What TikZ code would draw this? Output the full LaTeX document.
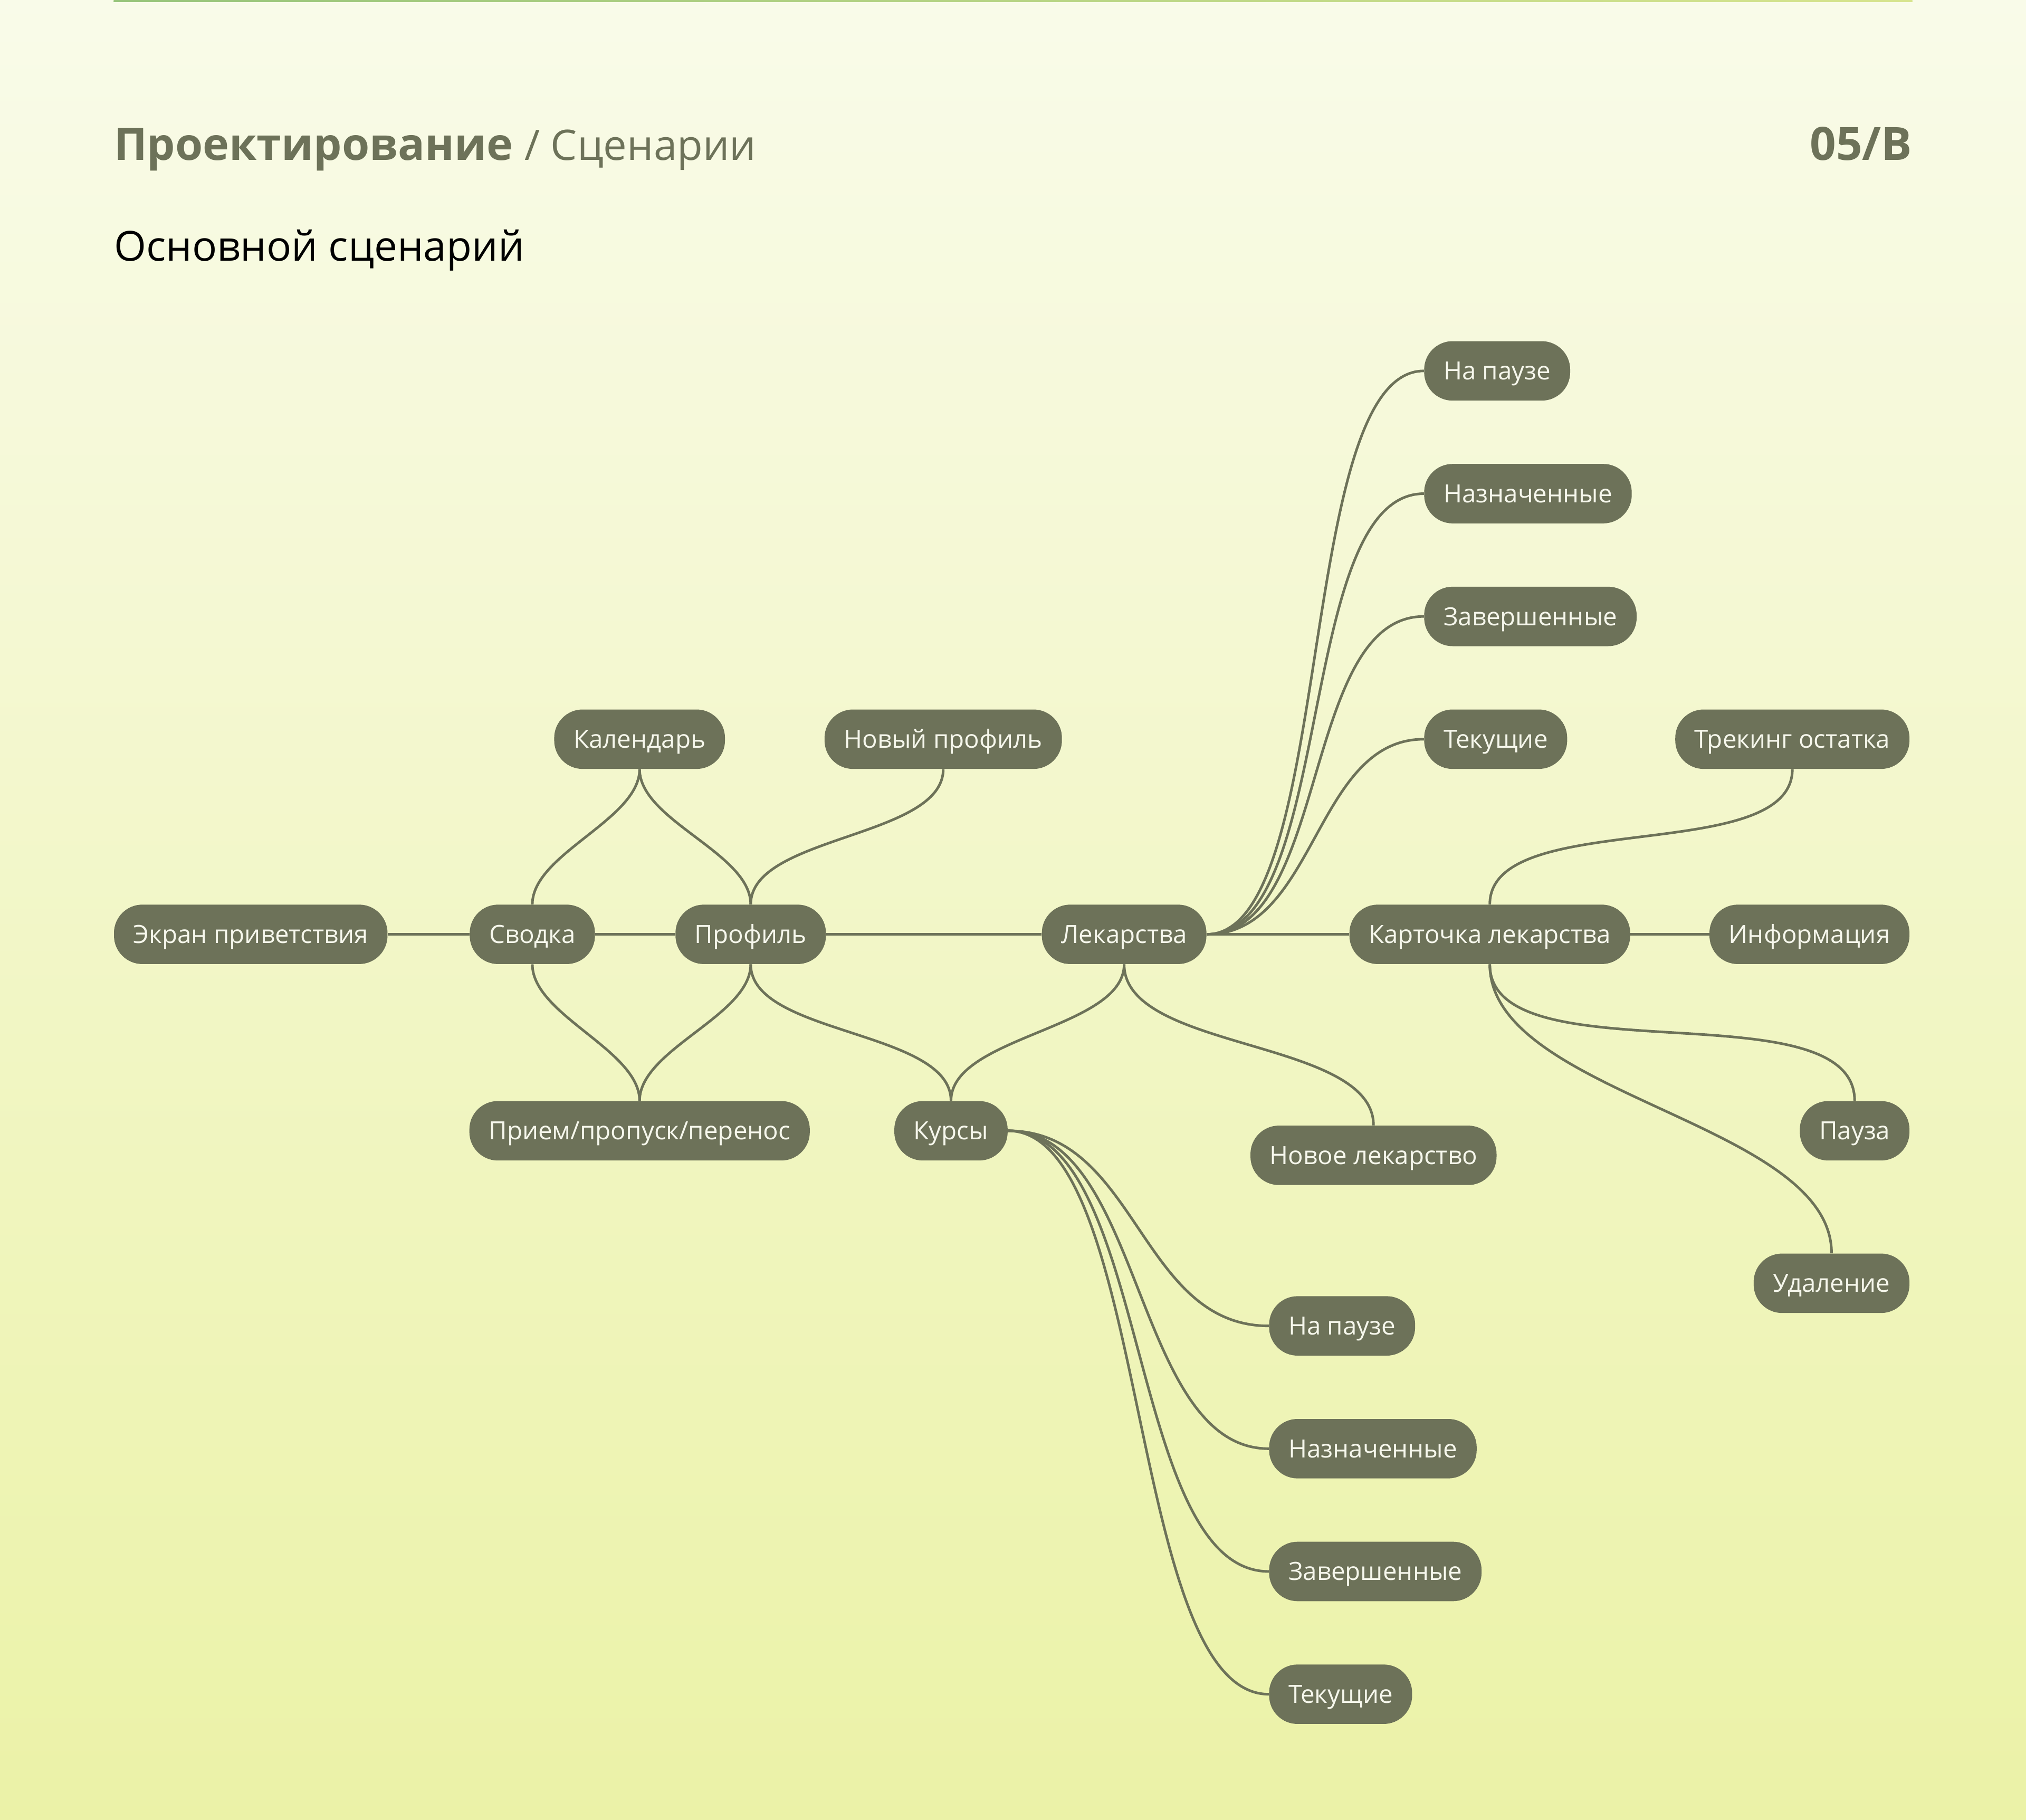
\documentclass[tikz,border=0pt]{standalone}
\usepackage{fontspec}
\setmainfont{Open Sans}
\usepackage{tikz}
\usetikzlibrary{positioning}
\definecolor{mapolive}{HTML}{6D7259}
\definecolor{nodetext}{HTML}{F6F7EC}
\definecolor{bgtop}{HTML}{F9FBE9}
\definecolor{bgbottom}{HTML}{EBF2A7}
\definecolor{lineleft}{HTML}{97C47A}
\definecolor{lineright}{HTML}{D7E48E}

\begin{document}
\begin{tikzpicture}[
  x=1pt,y=1pt,
  etap/.style={rectangle,rounded corners=22pt,fill=mapolive,text=nodetext,
               minimum height=46pt,inner xsep=15pt,inner ysep=0pt,
               text height=13.8pt,text depth=0pt,
               font=\fontsize{19.4}{22}\selectfont},
  zag/.style={inner sep=0pt,text=mapolive},
  svyaz/.style={mapolive,line width=2pt},
  vniz/.style={svyaz,out=-90,in=90,looseness=0.75},
  vverh/.style={svyaz,out=90,in=-90,looseness=0.75}
]
%% Фон
\shade[top color=bgtop,bottom color=bgbottom] (0,0) rectangle (1568,-1408);
\shade[left color=lineleft,right color=lineright] (88,0) rectangle (1480,-1.5);
\useasboundingbox (0,0) rectangle (1568,-1408);
%% Заголовки
\node[zag,anchor=base west,font=\fontsize{34.5}{40}\selectfont] (razdel) at (88,-124)
  {\textbf{Проектирование} {\fontsize{32.5}{36}\selectfont / Сценарии}};
\node[zag,anchor=base east,font=\fontsize{35.5}{40}\selectfont\bfseries] (nomer) at (1480,-124) {05/B};
\node[zag,anchor=base west,text=black,font=\fontsize{32}{36}\selectfont] (podzag) at (88,-202) {Основной сценарий};
%% Узлы
\node[etap,anchor=west] (ekran)     at (88,-723)   {Экран приветствия};
\node[etap]             (svodka)    at (412,-723)  {Сводка};
\node[etap]             (profil)    at (581,-723)  {Профиль};
\node[etap]             (lek)       at (870,-723)  {Лекарства};
\node[etap]             (kartochka) at (1153,-723) {Карточка лекарства};
\node[etap,anchor=east] (info)      at (1478,-723) {Информация};
\node[etap]             (kalendar)  at (495,-572)  {Календарь};
\node[etap]             (novprof)   at (730,-572)  {Новый профиль};
\node[etap]             (priem)     at (495,-875)  {Прием/пропуск/перенос};
\node[etap]             (kursy)     at (736,-875)  {Курсы};
\node[etap]             (novlek)    at (1063,-894) {Новое лекарство};
\node[etap,anchor=west] (lpauza)    at (1102,-287) {На паузе};
\node[etap,anchor=west] (lnazn)     at (1102,-382) {Назначенные};
\node[etap,anchor=west] (lzav)      at (1102,-477) {Завершенные};
\node[etap,anchor=west] (ltek)      at (1102,-572) {Текущие};
\node[etap,anchor=east] (trek)      at (1478,-572) {Трекинг остатка};
\node[etap,anchor=east] (pauza)     at (1478,-875) {Пауза};
\node[etap,anchor=east] (udal)      at (1478,-993) {Удаление};
\node[etap,anchor=west] (kpauza)    at (982,-1026) {На паузе};
\node[etap,anchor=west] (knazn)     at (982,-1121) {Назначенные};
\node[etap,anchor=west] (kzav)      at (982,-1216) {Завершенные};
\node[etap,anchor=west] (ktek)      at (982,-1311) {Текущие};
%% Связи
\draw[svyaz] (ekran) -- (svodka);
\draw[svyaz] (svodka) -- (profil);
\draw[svyaz] (profil) -- (lek);
\draw[svyaz] (lek) -- (kartochka);
\draw[svyaz] (kartochka) -- (info);
\draw[vniz] (kalendar.south) to (svodka.north);
\draw[vniz] (kalendar.south) to (profil.north);
\draw[vniz] (novprof.south) to (profil.north);
\draw[vniz] (svodka.south) to (priem.north);
\draw[vniz] (profil.south) to (priem.north);
\draw[vniz] (profil.south) to (kursy.north);
\draw[vniz] (lek.south) to (kursy.north);
\draw[vniz] (lek.south) to (novlek.north);
\draw[vverh] (kartochka.north) to (trek.south);
\draw[vniz] (kartochka.south) to (pauza.north);
\draw[vniz] (kartochka.south) to (udal.north);
\draw[svyaz] (lek.east) .. controls +(100,0) and +(-100,0) .. (lpauza.west);
\draw[svyaz] (lek.east) .. controls +(100,0) and +(-100,0) .. (lnazn.west);
\draw[svyaz] (lek.east) .. controls +(95,0) and +(-95,0) .. (lzav.west);
\draw[svyaz] (lek.east) .. controls +(85,0) and +(-85,0) .. (ltek.west);
\draw[svyaz] (kursy.east) .. controls +(100,0) and +(-100,0) .. (kpauza.west);
\draw[svyaz] (kursy.east) .. controls +(105,0) and +(-105,0) .. (knazn.west);
\draw[svyaz] (kursy.east) .. controls +(110,0) and +(-110,0) .. (kzav.west);
\draw[svyaz] (kursy.east) .. controls +(110,0) and +(-110,0) .. (ktek.west);
\end{tikzpicture}
\end{document}
